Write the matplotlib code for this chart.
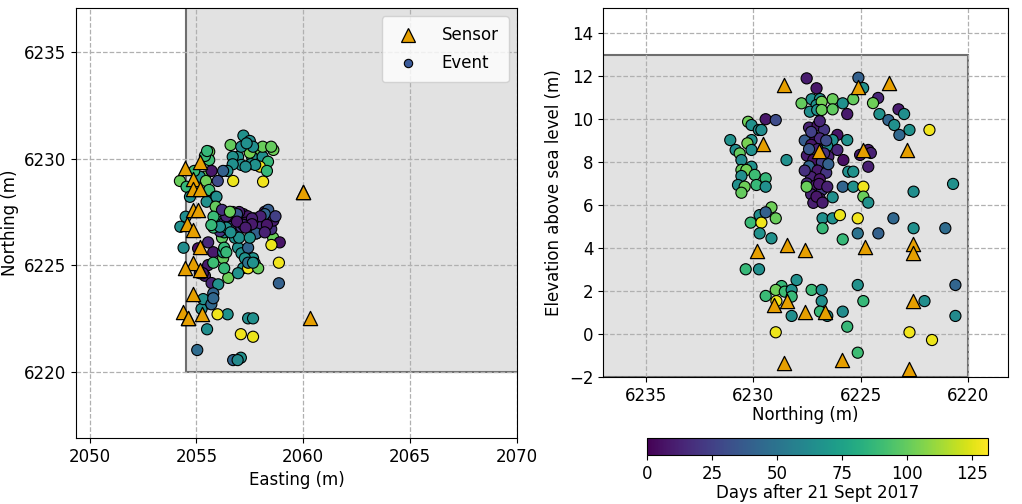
import numpy as np
import matplotlib
matplotlib.use('Agg')
import matplotlib.pyplot as plt
from matplotlib.patches import Rectangle
from matplotlib.lines import Line2D

# Sensor positions (m)
sensor_east = [2054.46, 2055.16, 2054.84, 2054.84, 2055.16, 2060.0, 2060.0, 2054.84, 2055.07,
               2054.56, 2054.84, 2055.16, 2054.84, 2054.46, 2055.16, 2054.84, 2054.37, 2055.26,
               2054.6, 2060.3, 2054.6]
sensor_north = [6229.56, 6229.84, 6229.04, 6228.57, 6228.57, 6228.43, 6228.43, 6227.59, 6227.59,
                6226.94, 6226.66, 6225.86, 6225.12, 6224.88, 6224.79, 6223.67, 6222.83, 6222.73,
                6222.55, 6222.55, 6222.55]
sensor_elev = [8.86, 3.86, 1.34, 11.57, -1.37, 4.14, 1.52, 3.91, 1.01,
               8.49, 1.01, -1.19, 11.48, 8.58, 4.05, 11.66, 8.58, -1.65,
               4.19, 3.77, 1.52]

# Events: easting, northing, elevation (m) and days after 21 Sept 2017
ev_east = [2058.0, 2057.6, 2057.55, 2057.2, 2057.5, 2056.6, 2056.95, 2057.5, 2058.1, 2057.1,
           2056.7, 2058.1, 2055.6, 2057.65, 2055.6, 2057.35, 2058.6, 2058.5, 2058.35, 2055.4,
           2057.1, 2057.97, 2057.75, 2055.5, 2056.7, 2057.3, 2058.3, 2056.45,
           2055.4, 2056.25, 2054.23, 2055.16, 2055.71, 2056.0, 2055.55, 2058.12, 2056.72, 2054.54,
           2055.45, 2055.6, 2054.9, 2054.7, 2055.9, 2055.48, 2055.94,
           2058.2, 2058.0, 2055.9, 2054.5, 2057.0, 2058.59, 2056.95, 2056.25, 2056.2, 2056.6,
           2056.6, 2057.0, 2055.9, 2056.2, 2055.79, 2058.9, 2056.8, 2056.25, 2056.3, 2055.55,
           2055.08, 2057.8, 2057.11, 2057.65,
           2057.2, 2056.8, 2057.6, 2056.5, 2057.9, 2058.36, 2056.9, 2057.4, 2056.3, 2058.5,
           2057.0, 2057.7, 2056.6, 2058.2, 2057.3, 2056.1, 2058.0, 2057.5, 2056.7, 2058.6,
           2057.1, 2056.4, 2058.3, 2057.6, 2056.9, 2057.8, 2056.2, 2057.2, 2058.7,
           2055.16, 2055.4, 2055.55, 2055.3, 2055.71, 2056.49, 2057.73, 2057.19, 2055.52, 2055.24,
           2056.02, 2055.79, 2055.32, 2056.46, 2057.08, 2055.7,
           2056.57, 2057.6, 2058.2, 2057.42, 2057.27, 2057.42, 2056.9, 2057.3, 2057.0, 2057.89,
           2056.95, 2057.42, 2057.08, 2056.4, 2057.5, 2058.51, 2058.86, 2055.8, 2055.79, 2057.65,
           2055.04, 2057.42, 2058.86, 2056.3,
           2055.8, 2056.1, 2057.65, 2056.72, 2054.25, 2056.3, 2055.5, 2056.6, 2054.4, 2056.93,
           2055.7, 2056.4, 2055.99, 2057.65, 2055.79]
ev_north = [6230.24, 6230.08, 6229.74, 6231.07, 6230.82, 6230.63, 6230.08, 6230.27, 6230.08, 6230.55,
            6230.08, 6230.55, 6230.32, 6230.55, 6229.93, 6230.71, 6230.40, 6230.55, 6229.85, 6230.12,
            6229.70, 6229.62, 6229.70, 6230.35, 6229.73, 6229.62, 6229.42, 6229.42,
            6229.15, 6229.42, 6228.95, 6229.15, 6229.42, 6228.95, 6228.45, 6228.92, 6228.95, 6228.68,
            6228.95, 6228.53, 6229.42, 6228.21, 6228.21, 6227.98, 6228.21,
            6227.51, 6227.05, 6227.75, 6227.28, 6226.89, 6226.30, 6225.83, 6225.34, 6227.05, 6226.81,
            6227.36, 6227.02, 6226.81, 6226.30, 6225.62, 6226.08, 6226.30, 6225.62, 6226.55, 6226.08,
            6225.80, 6226.50, 6225.57, 6225.34,
            6227.4, 6227.0, 6226.7, 6227.2, 6226.9, 6227.6, 6226.6, 6227.3, 6227.0, 6226.7,
            6227.5, 6227.2, 6226.8, 6227.4, 6227.0, 6226.6, 6227.3, 6226.9, 6227.5, 6227.1,
            6226.8, 6227.3, 6226.9, 6227.2, 6227.4, 6226.5, 6227.6, 6226.9, 6227.3,
            6224.64, 6224.52, 6225.02, 6224.64, 6224.18, 6224.42, 6225.10, 6224.88, 6223.23, 6222.97,
            6224.12, 6223.70, 6223.43, 6222.72, 6221.79, 6223.19,
            6227.51, 6226.93, 6226.55, 6225.83, 6225.34, 6224.87, 6227.05, 6226.77, 6226.30, 6224.87,
            6224.64, 6222.53, 6220.69, 6226.77, 6226.30, 6225.96, 6225.13, 6226.77, 6223.47, 6222.53,
            6221.05, 6225.13, 6224.17, 6225.83,
            6227.28, 6226.81, 6225.13, 6220.58, 6226.81, 6224.87, 6222.02, 6226.55, 6225.83, 6220.58,
            6226.89, 6225.62, 6222.72, 6221.67, 6225.13]
ev_elev = [9.87, 9.72, 9.49, 9.02, 8.56, 8.40, 9.02, 8.87, 8.56, 8.09,
           7.78, 7.63, 7.63, 7.35, 7.40, 6.93, 6.85, 6.57, 6.93, 5.18,
           5.53, 5.18, 4.68, 3.01, 3.01, 9.49, 7.24, 6.85,
           5.89, 5.66, 5.38, 4.45, 9.99, 9.95, 8.09, 1.53, 0.08, 2.23,
           2.05, 1.97, 1.77, 2.05, 1.74, 2.51, 0.84,
           11.89, 11.43, 10.73, 10.92, 10.93, 10.92, 10.73, 10.92, 10.65, 10.80,
           10.34, 10.42, 10.42, 10.45, 10.23, 9.26, 9.02, 9.02, 8.74, 8.56,
           8.09, 8.25, 7.55, 7.55,
           9.6, 9.7, 9.5, 9.2, 9.1, 9.0, 9.0, 8.8, 8.6, 8.4,
           8.3, 8.1, 8.0, 7.8, 7.6, 7.5, 7.3, 7.2, 7.0, 6.9,
           6.7, 6.5, 6.3, 6.1, 8.6, 7.9, 7.6, 9.9, 9.4,
           8.56, 8.42, 8.33, 7.78, 10.98, 10.74, 11.92, 11.44, 10.45, 10.23,
           10.23, 9.95, 9.72, 9.49, 9.49, 9.26,
           6.85, 6.98, 6.85, 6.85, 6.85, 6.85, 6.39, 6.11, 6.36, 6.39,
           6.11, 6.62, 6.98, 5.38, 5.38, 5.53, 5.38, 4.92, 5.38, 4.92,
           4.92, 4.68, 4.68, 4.40,
           2.05, 2.05, 2.28, 2.28, 1.53, 1.53, 1.53, 0.84, 1.04, 0.84,
           1.04, 0.34, 0.08, -0.28, -0.87]
ev_days = [102, 66, 64, 66, 63, 100, 67, 104, 65, 62,
           66, 101, 103, 64, 90, 65, 102, 100, 88, 89,
           64, 128, 66, 88, 65, 63, 87, 65,
           102, 40, 101, 66, 8, 30, 65, 128, 127, 88,
           102, 90, 89, 66, 88, 65, 64,
           10, 8, 100, 64, 66, 101, 65, 100, 67, 103,
           64, 66, 101, 99, 9, 7, 65, 66, 64, 15,
           5, 12, 65, 67,
           12, 8, 20, 5, 15, 38, 30, 8, 12, 18,
           10, 6, 25, 42, 9, 20, 12, 7, 16, 10,
           22, 13, 8, 11, 35, 40, 18, 14, 25,
           10, 12, 9, 11, 14, 102, 40, 66, 10, 64,
           66, 42, 65, 67, 128, 44,
           101, 9, 12, 42, 66, 128, 8, 10, 65, 101,
           66, 64, 66, 65, 66, 127, 128, 88, 43, 65,
           46, 50, 40, 88,
           89, 64, 66, 42, 65, 88, 64, 65, 63, 62,
           88, 88, 128, 127, 90]

sensor_color = '#e69f00'
vmin, vmax = 0, 131
fs = 12

fig = plt.figure(figsize=(10.22, 5.04), dpi=100)
ax1 = fig.add_axes([0.0744, 0.131, 0.4315, 0.853])
ax2 = fig.add_axes([0.590, 0.252, 0.3963, 0.732])
cax = fig.add_axes([0.633, 0.0972, 0.3337, 0.0337])

# Plan view
ax1.add_patch(Rectangle((2054.5, 6220), 20, 20, facecolor='#e2e2e2',
                        edgecolor='#6e6e6e', linewidth=1.5, zorder=0))
sc = ax1.scatter(ev_east, ev_north, c=ev_days, cmap='viridis', vmin=vmin, vmax=vmax,
                 s=64, edgecolors='black', linewidths=0.8, zorder=3)
ax1.scatter(sensor_east, sensor_north, marker='^', s=105, color=sensor_color,
            edgecolors='black', linewidths=0.9, zorder=4)
ax1.set_xlim(2049.37, 2070)
ax1.set_ylim(6216.94, 6237.03)
ax1.set_xticks([2050, 2055, 2060, 2065, 2070])
ax1.set_yticks([6220, 6225, 6230, 6235])
ax1.set_xlabel('Easting (m)', fontsize=fs)
ax1.set_ylabel('Northing (m)', fontsize=fs)
ax1.grid(True, linestyle='--', color='#b0b0b0', linewidth=0.9)
ax1.tick_params(labelsize=fs)

handles = [Line2D([], [], marker='^', linestyle='none', markersize=10, color=sensor_color,
                  markeredgecolor='black', markeredgewidth=0.9),
           Line2D([], [], marker='o', linestyle='none', markersize=6, color='#3b5b9a',
                  markeredgecolor='black', markeredgewidth=0.8)]
ax1.legend(handles, ['Sensor', 'Event'], loc='upper right', fontsize=fs,
           borderpad=0.6, labelspacing=0.6, handletextpad=1.0)

# Section view
ax2.add_patch(Rectangle((6220, -2), 20, 15, facecolor='#e2e2e2',
                        edgecolor='#6e6e6e', linewidth=1.5, zorder=0))
ax2.scatter(ev_north, ev_elev, c=ev_days, cmap='viridis', vmin=vmin, vmax=vmax,
            s=64, edgecolors='black', linewidths=0.8, zorder=3)
ax2.scatter(sensor_north, sensor_elev, marker='^', s=105, color=sensor_color,
            edgecolors='black', linewidths=0.9, zorder=4)
ax2.set_xlim(6237.0, 6218.13)
ax2.set_ylim(-2, 15.16)
ax2.set_xticks([6235, 6230, 6225, 6220])
ax2.set_yticks([-2, 0, 2, 4, 6, 8, 10, 12, 14])
ax2.set_xlabel('Northing (m)', fontsize=fs, labelpad=1)
ax2.set_ylabel('Elevation above sea level (m)', fontsize=fs)
ax2.grid(True, linestyle='--', color='#b0b0b0', linewidth=0.9)
ax2.tick_params(labelsize=fs)

cb = fig.colorbar(sc, cax=cax, orientation='horizontal')
cb.set_ticks([0, 25, 50, 75, 100, 125])
cb.set_label('Days after 21 Sept 2017', fontsize=fs, labelpad=1)
cb.ax.tick_params(labelsize=fs)

fig.savefig('out.png', dpi=100)
